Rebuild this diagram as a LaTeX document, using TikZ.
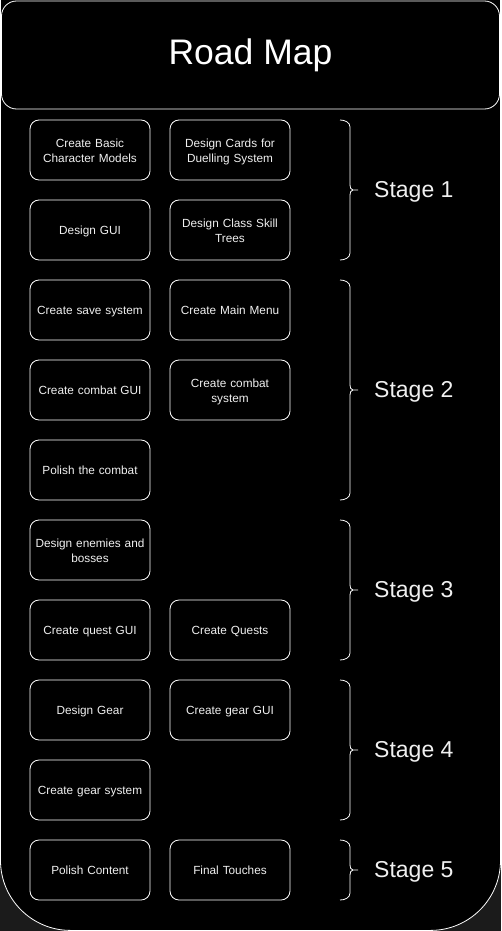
\documentclass[tikz,border=0pt]{standalone}
\usepackage{fontspec}
\setmainfont{Liberation Sans}
\usepackage{tikz}
\definecolor{outer}{HTML}{1B1B1B}
\definecolor{schrift}{HTML}{F0F0F0}
\newcommand{\stagebrace}[3]{%
  \draw[klammer] (340,#1) to[out=0,in=90] (350,#1+7) -- (350,#2-5)
    to[out=-90,in=180] (353,#2) -- (358,#2);
  \draw[klammer] (353,#2) to[out=180,in=90] (350,#2+5) -- (350,#3-7)
    to[out=-90,in=0] (340,#3);}
\tikzset{
  panel/.style={draw=white,fill=black,line width=0.8pt,rounded corners=70pt},
  titel/.style={draw=white,fill=black,line width=0.8pt,rounded corners=15pt,
    minimum width=498pt,minimum height=108pt,text=white,
    font=\fontsize{35.5}{40}\selectfont},
  task/.style={draw=white,line width=0.8pt,rounded corners=9pt,
    minimum width=120pt,minimum height=60pt,text width=116pt,align=center,
    inner sep=0pt,text=schrift,font=\fontsize{11.8}{15}\selectfont,
    execute at begin node={\rule{0pt}{12pt}},
    execute at end node={\rule[-3pt]{0pt}{3pt}}},
  klammer/.style={white,line width=0.8pt},
  stufe/.style={anchor=base west,text=schrift,inner sep=0pt,
    font=\fontsize{23}{26}\selectfont},
}

\begin{document}
\begin{tikzpicture}[x=1pt,y=-1pt]
  \useasboundingbox (0,0) rectangle (501,931);
  \clip (0,0) rectangle (501,931);
  \fill[black] (0,0) rectangle (501,931);
  \fill[outer] (0,780) rectangle (501,931);
  \draw[panel] (0.5,-150) rectangle (500.5,930.4);
  \node[titel] (title) at (250.5,55) {Road Map};

  % stage 1
  \node[task] (models) at (90,150) {Create Basic\\Character Models};
  \node[task] (cards) at (230,150) {Design Cards for\\Duelling System};
  \node[task] (gui) at (90,230) {Design GUI};
  \node[task] (skills) at (230,230) {Design Class Skill\\Trees};
  % stage 2
  \node[task] (save) at (90,310) {Create save system};
  \node[task] (menu) at (230,310) {Create Main Menu};
  \node[task] (combatgui) at (90,390) {Create combat GUI};
  \node[task] (combat) at (230,390) {Create combat\\system};
  \node[task] (polish) at (90,470) {Polish the combat};
  % stage 3
  \node[task] (enemies) at (90,550) {Design enemies and\\bosses};
  \node[task] (questgui) at (90,630) {Create quest GUI};
  \node[task] (quests) at (230,630) {Create Quests};
  % stage 4
  \node[task] (gear) at (90,710) {Design Gear};
  \node[task] (geargui) at (230,710) {Create gear GUI};
  \node[task] (gearsys) at (90,790) {Create gear system};
  % stage 5
  \node[task] (content) at (90,870) {Polish Content};
  \node[task] (final) at (230,870) {Final Touches};

  \stagebrace{120}{190}{260}
  \stagebrace{280}{390}{500}
  \stagebrace{520}{590}{660}
  \stagebrace{680}{750}{820}
  \stagebrace{840}{870}{900}
  \node[stufe] (s1) at (374,197.5) {Stage 1};
  \node[stufe] (s2) at (374,397.5) {Stage 2};
  \node[stufe] (s3) at (374,597.5) {Stage 3};
  \node[stufe] (s4) at (374,757.5) {Stage 4};
  \node[stufe] (s5) at (374,877.5) {Stage 5};
\end{tikzpicture}
\end{document}
